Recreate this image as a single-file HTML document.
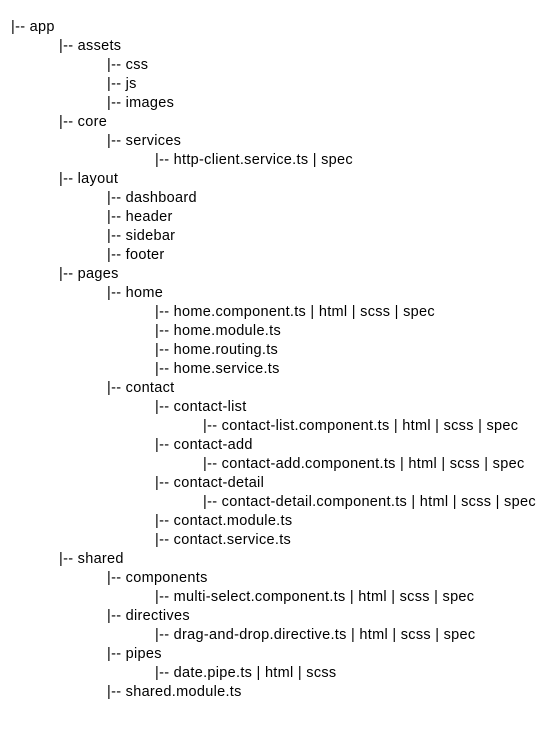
<!DOCTYPE html>
<html><head><meta charset="utf-8"><style>
body{margin:0;width:558px;height:754px;background:#fff;overflow:hidden}
.l{position:absolute;font-family:"Liberation Sans",sans-serif;font-size:14.5px;letter-spacing:0.3px;color:#000;white-space:pre;line-height:19px}
</style></head><body>
<script>
const L=[[0,"app"],[1,"assets"],[2,"css"],[2,"js"],[2,"images"],[1,"core"],[2,"services"],[3,"http-client.service.ts | spec"],[1,"layout"],[2,"dashboard"],[2,"header"],[2,"sidebar"],[2,"footer"],[1,"pages"],[2,"home"],[3,"home.component.ts | html | scss | spec"],[3,"home.module.ts"],[3,"home.routing.ts"],[3,"home.service.ts"],[2,"contact"],[3,"contact-list"],[4,"contact-list.component.ts | html | scss | spec"],[3,"contact-add"],[4,"contact-add.component.ts | html | scss | spec"],[3,"contact-detail"],[4,"contact-detail.component.ts | html | scss | spec"],[3,"contact.module.ts"],[3,"contact.service.ts"],[1,"shared"],[2,"components"],[3,"multi-select.component.ts | html | scss | spec"],[2,"directives"],[3,"drag-and-drop.directive.ts | html | scss | spec"],[2,"pipes"],[3,"date.pipe.ts | html | scss"],[2,"shared.module.ts"]];
L.forEach((e,i)=>{const d=document.createElement('div');d.className='l';d.style.left=(11+48*e[0])+'px';d.style.top=(18+19*i)+'px';d.textContent='|-- '+e[1];document.body.appendChild(d);});
</script>
</body></html>
